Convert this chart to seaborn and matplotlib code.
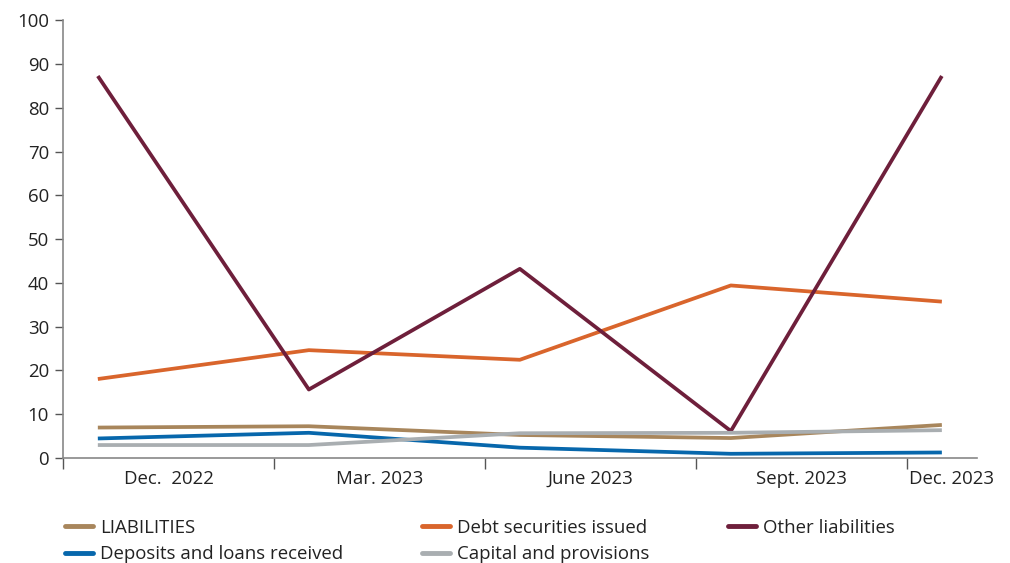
import matplotlib
matplotlib.use("Agg")
import matplotlib.pyplot as plt
from matplotlib.lines import Line2D
import numpy as np
import pandas as pd
import seaborn as sns

# Quarter-end dates
periods = ["Dec.  2022", "Mar. 2023", "June 2023", "Sept. 2023", "Dec. 2023"]

# Series values (%)
liabilities = [6.9, 7.2, 5.2, 4.5, 7.5]
debt_securities = [18.0, 24.6, 22.4, 39.4, 35.7]
other_liabilities = [87.3, 15.6, 43.2, 6.1, 87.3]
deposits_loans = [4.4, 5.7, 2.3, 0.9, 1.2]
capital_provisions = [2.9, 2.9, 5.6, 5.7, 6.3]

series_names = ["LIABILITIES", "Debt securities issued", "Other liabilities",
                "Deposits and loans received", "Capital and provisions"]
series_values = [liabilities, debt_securities, other_liabilities,
                 deposits_loans, capital_provisions]
colors = {
    "LIABILITIES": "#A8865C",
    "Debt securities issued": "#D9652C",
    "Other liabilities": "#6E1F3B",
    "Deposits and loans received": "#0767AC",
    "Capital and provisions": "#A9AEB1",
}

y_ticks = list(range(0, 101, 10))

rows = []
for name, vals in zip(series_names, series_values):
    for i, v in enumerate(vals):
        rows.append({"pos": i, "value": v, "series": name})
df = pd.DataFrame(rows)

sns.set_theme(style="white")
plt.rcParams["font.family"] = ["Open Sans", "DejaVu Sans"]

FS = 13.4
TXT = "#222222"

fig = plt.figure(figsize=(10.10, 5.63), dpi=100)
ax = fig.add_axes([0.0624, 0.187, 0.9046, 0.7766])

sns.lineplot(data=df, x="pos", y="value", hue="series", hue_order=series_names,
             palette=colors, linewidth=2.7, ax=ax, legend=False,
             solid_capstyle="butt")

half = 0.165
ax.set_xlim(-half, len(periods) - 1 + half)
ax.set_ylim(0, 100)
ax.set_yticks(y_ticks)
ax.set_yticklabels([str(t) for t in y_ticks])

# Category boundaries carry tick marks; labels sit between them
ax.set_xticks([i - half for i in range(len(periods))])
ax.set_xticklabels([])
label_pos = [i + 0.335 for i in range(len(periods) - 1)] + [len(periods) - 1 + 0.045]
ax.set_xticks(label_pos, minor=True)
ax.set_xticklabels(periods, minor=True)

ax.tick_params(axis="x", which="major", length=8, width=1, color="#555555",
               direction="out", bottom=True)
ax.tick_params(axis="x", which="minor", length=0, pad=9, labelsize=FS,
               labelcolor=TXT)
ax.tick_params(axis="y", length=6, width=1, color="#555555", direction="out",
               left=True, labelsize=FS, labelcolor=TXT, pad=4)

for side in ["top", "right"]:
    ax.spines[side].set_visible(False)
for side in ["left", "bottom"]:
    ax.spines[side].set_color("#888888")
    ax.spines[side].set_linewidth(1.2)
ax.set_xlabel("")
ax.set_ylabel("")

legend_order = ["LIABILITIES", "Deposits and loans received",
                "Debt securities issued", "Capital and provisions",
                "Other liabilities"]
handles = [Line2D([0], [0], color=colors[n], linewidth=3.5, solid_capstyle="round")
           for n in legend_order]
fig.legend(handles, legend_order, loc="upper left", bbox_to_anchor=(0.0644, 0.079),
           ncol=3, frameon=False, fontsize=FS, handlelength=1.5,
           handletextpad=0.4, columnspacing=4.2, labelspacing=0.48,
           borderaxespad=0, borderpad=0, labelcolor=TXT)

fig.savefig("out.png", dpi=100)
